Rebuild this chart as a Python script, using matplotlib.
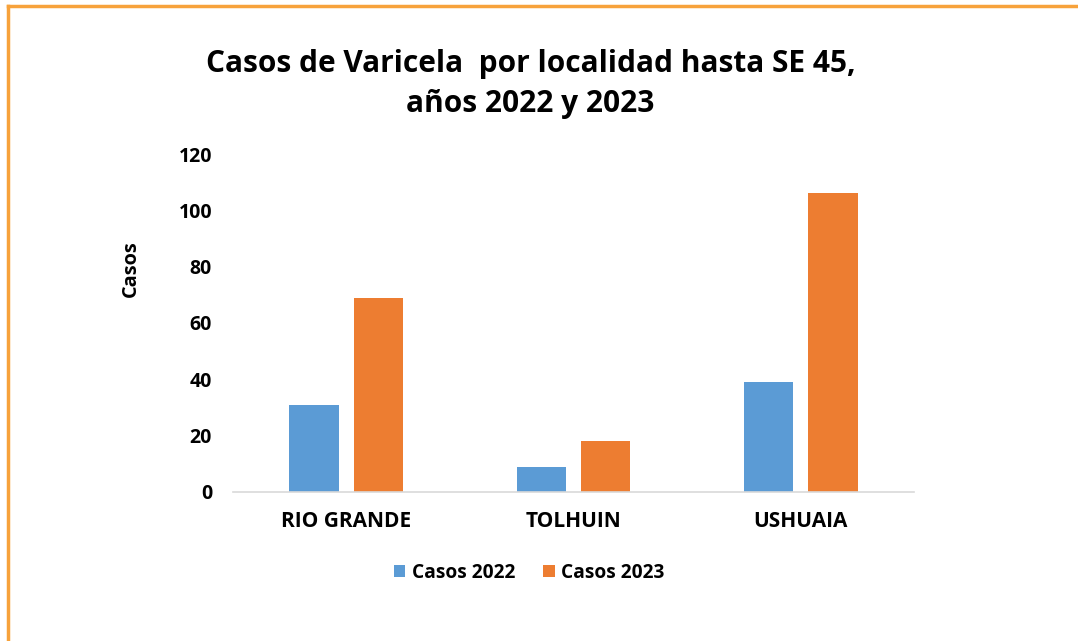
import matplotlib
matplotlib.use("Agg")
import matplotlib.pyplot as plt
import numpy as np
from matplotlib.lines import Line2D

categories = ["RIO GRANDE", "TOLHUIN", "USHUAIA"]
casos_2022 = [31, 9, 39]
casos_2023 = [69, 18, 106]
series_names = ["Casos 2022", "Casos 2023"]
yticks = [0, 20, 40, 60, 80, 100, 120]

plt.rcParams['font.family'] = ['Open Sans', 'DejaVu Sans']
plt.rcParams['font.weight'] = 'bold'

fig = plt.figure(figsize=(10.78, 6.41), dpi=100)
ax = fig.add_axes([0.2161, 0.2325, 0.6318, 0.5272])

x = np.arange(len(categories))
w = 0.22
off = 0.141
b1 = ax.bar(x - off, casos_2022, w, color="#5B9BD5", label=series_names[0])
b2 = ax.bar(x + off, casos_2023, w, color="#ED7D31", label=series_names[1])

ax.set_xlim(-0.5, 2.5)
ax.set_ylim(0, 120)
ax.set_yticks(yticks)
ax.set_xticks(x)
ax.set_xticklabels(categories, fontsize=15, fontweight='bold')
ax.tick_params(axis='y', length=0, pad=15, labelsize=14)
ax.tick_params(axis='x', length=0, pad=14)
for s in ['top', 'right', 'left']:
    ax.spines[s].set_visible(False)
ax.spines['bottom'].set_color('#D9D9D9')
ax.spines['bottom'].set_linewidth(1.2)
ax.set_ylabel("Casos", fontsize=14.3, fontweight='bold')
ax.yaxis.set_label_coords(-0.135, 0.66)

fig.text(0.492, 0.900, "Casos de Varicela  por localidad hasta SE 45,", ha='center', va='center',
         fontsize=21.5, fontweight='bold')
fig.text(0.492, 0.838, "años 2022 y 2023", ha='center', va='center',
         fontsize=21.5, fontweight='bold')

leg = fig.legend(handles=[b1, b2], labels=series_names, loc='center', bbox_to_anchor=(0.491, 0.106),
                 ncol=2, frameon=False, fontsize=13.8, handlelength=0.6, handleheight=0.6,
                 columnspacing=1.45, handletextpad=0.35)

# orange border (top and left)
fig.add_artist(Line2D([0.0075, 1.0], [0.9906, 0.9906], transform=fig.transFigure, color="#F7A23B", lw=2.5))
fig.add_artist(Line2D([0.0075, 0.0075], [0.0, 0.9906], transform=fig.transFigure, color="#F7A23B", lw=2.5))

fig.savefig("out.png", dpi=100)
